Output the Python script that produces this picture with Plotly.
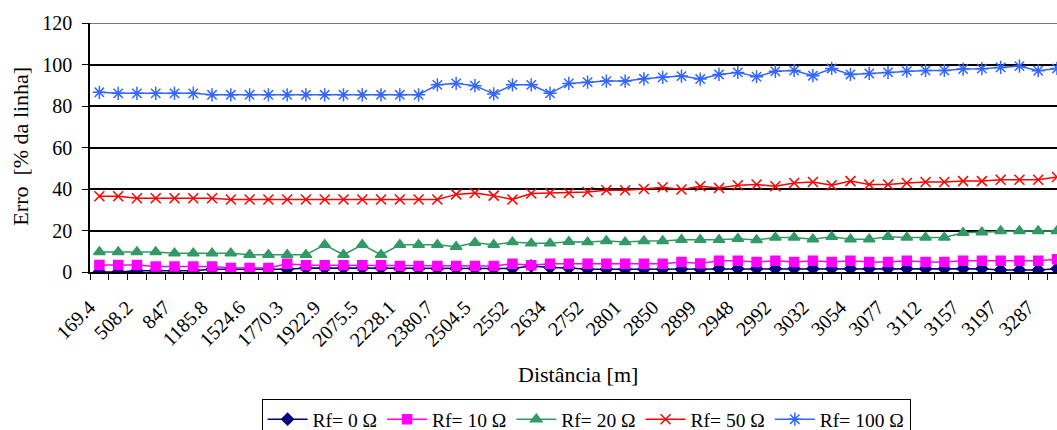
import plotly.graph_objects as go

tick_labels = ["169.4", "508.2", "847", "1185.8", "1524.6", "1770.3", "1922.9", "2075.5",
               "2228.1", "2380.7", "2504.5", "2552", "2634", "2752", "2801", "2850", "2899",
               "2948", "2992", "3032", "3054", "3077", "3112", "3157", "3197", "3287"]

rf0 = [0.0, 0.0, 0.6, 0.6, 0.6, 0.6, 1.3, 1.3, 1.3, 1.3, 1.3, 1.9, 1.9, 1.9, 1.9, 1.9, 1.6,
       1.6, 1.6, 1.6, 1.6, 1.6, 1.7, 2.9, 2.2, 1.9, 1.3, 1.3, 1.3, 1.3, 1.3, 1.3, 1.3, 1.6,
       1.6, 1.6, 1.6, 1.6, 1.6, 1.6, 1.6, 1.6, 1.6, 1.6, 1.6, 1.6, 1.6, 1.6, 1.0, 1.0, 1.0, 1.6]
rf10 = [3.4, 3.4, 3.4, 2.6, 2.6, 2.6, 2.6, 1.9, 1.9, 1.9, 4.0, 3.2, 3.2, 3.2, 3.2, 3.2, 2.9,
        2.9, 2.9, 2.9, 2.9, 2.9, 4.0, 3.2, 4.0, 4.0, 4.0, 4.0, 4.0, 4.0, 4.0, 4.8, 4.1, 5.4,
        5.4, 4.8, 5.4, 4.8, 5.4, 4.8, 5.4, 4.8, 4.8, 5.4, 4.8, 4.8, 5.4, 5.4, 5.4, 5.4, 5.4, 6.1]
rf20 = [9.6, 9.6, 9.6, 9.6, 9.0, 9.0, 9.0, 9.0, 8.3, 8.3, 8.3, 8.3, 13.1, 8.3, 13.1, 8.3, 13.1,
        13.1, 13.1, 12.2, 14.1, 13.1, 14.4, 13.8, 13.8, 14.6, 14.4, 15.0, 14.4, 15.0, 15.0, 15.5,
        15.5, 15.5, 16.0, 15.4, 16.6, 16.6, 15.8, 17.0, 15.8, 15.8, 17.0, 16.6, 16.6, 16.6, 18.9,
        19.2, 19.8, 19.8, 19.8, 19.8]
rf50 = [36.5, 36.5, 35.5, 35.5, 35.5, 35.5, 35.5, 34.9, 34.9, 34.9, 34.9, 34.9, 34.9, 34.9,
        34.9, 34.9, 34.9, 34.9, 34.9, 37.4, 38.1, 36.8, 34.9, 37.8, 38.1, 38.1, 38.6, 39.4, 39.4,
        40.0, 40.8, 39.8, 41.3, 40.5, 41.8, 42.2, 41.3, 42.9, 43.4, 41.8, 43.8, 42.2, 42.2, 42.9,
        43.4, 43.4, 43.8, 43.8, 44.5, 44.5, 44.5, 45.8]
rf100 = [86.6, 86.1, 86.1, 86.1, 86.1, 86.1, 85.4, 85.4, 85.4, 85.4, 85.4, 85.4, 85.4, 85.4,
         85.4, 85.4, 85.4, 85.4, 90.2, 90.9, 89.8, 85.8, 90.2, 90.2, 86.1, 90.9, 91.5, 92.0, 92.0,
         93.1, 93.8, 94.4, 93.0, 95.2, 96.2, 94.1, 96.7, 97.1, 94.6, 98.1, 95.2, 95.7, 96.2, 96.8,
         97.1, 97.1, 97.8, 98.0, 98.6, 99.2, 97.0, 98.1]

series_names = ["Rf= 0 Ω", "Rf= 10 Ω", "Rf= 20 Ω", "Rf= 50 Ω", "Rf= 100 Ω"]
series_vals = [rf0, rf10, rf20, rf50, rf100]
colors = ["#000080", "#FF00FF", "#339966", "#FF0000", "#3366FF"]
symbols = ["diamond", "square", "triangle-up", "x-thin-open", "asterisk-open"]
sizes = [9, 9, 10, 10, 11]

x = list(range(len(rf0)))
FONT = "'Liberation Serif', 'Times New Roman', Times, serif"

fig = go.Figure()
for name, vals, c, s, sz in zip(series_names, series_vals, colors, symbols, sizes):
    fig.add_trace(go.Scatter(
        x=x, y=vals, name=name, mode="lines+markers",
        line=dict(color=c, width=1.5),
        marker=dict(symbol=s, size=sz, color=c, line=dict(color=c, width=1.5)),
    ))

fig.update_layout(
    width=1057, height=430,
    margin=dict(l=90, r=0, t=23, b=158, autoexpand=False),
    plot_bgcolor="white", paper_bgcolor="white",
    font=dict(family=FONT, size=19, color="black"),
    showlegend=True,
    legend=dict(orientation="h", x=0.513, xanchor="center", y=-0.51, yanchor="top",
                bordercolor="black", borderwidth=1, font=dict(family=FONT, size=19.5),
                itemwidth=40, tracegroupgap=0),
    xaxis=dict(range=[-0.5, 51.0], tickmode="array", automargin=False,
               tickvals=[2 * i for i in range(len(tick_labels))], ticktext=tick_labels,
               tickangle=-45, ticks="", showgrid=False, zeroline=False,
               showline=True, linecolor="black", linewidth=1.5,
               tickfont=dict(family=FONT, size=20),
               ticklabelstandoff=14, ticklabelshift=-10,
               minor=dict(ticks="outside", tick0=-0.5, dtick=1, ticklen=6,
                          tickcolor="black", tickwidth=1, showgrid=False)),
    yaxis=dict(range=[0, 120], tickvals=[0, 20, 40, 60, 80, 100, 120], automargin=False,
               ticks="outside", ticklen=6, tickcolor="black",
               showgrid=True, gridcolor="black", gridwidth=2, zeroline=False,
               showline=True, linecolor="black", linewidth=1.5,
               ticklabelstandoff=6,
               tickfont=dict(family=FONT, size=20)),
    shapes=[dict(type="line", xref="paper", yref="y", x0=0, x1=1, y0=120, y1=120,
                 line=dict(color="#777777", width=2), layer="above")],
    annotations=[
        dict(text="Distância [m]", xref="paper", yref="paper", x=0.505, y=-0.41,
             xanchor="center", yanchor="middle", showarrow=False,
             font=dict(family=FONT, size=22)),
        dict(text="Erro  [% da linha]", xref="paper", yref="paper", x=-0.072, y=0.505,
             xanchor="center", yanchor="middle", textangle=-90, showarrow=False,
             font=dict(family=FONT, size=22)),
    ],
)

fig.write_html("out.html", config={"displayModeBar": False},
               post_script="document.body.style.margin='0';document.body.style.overflow='hidden';")
